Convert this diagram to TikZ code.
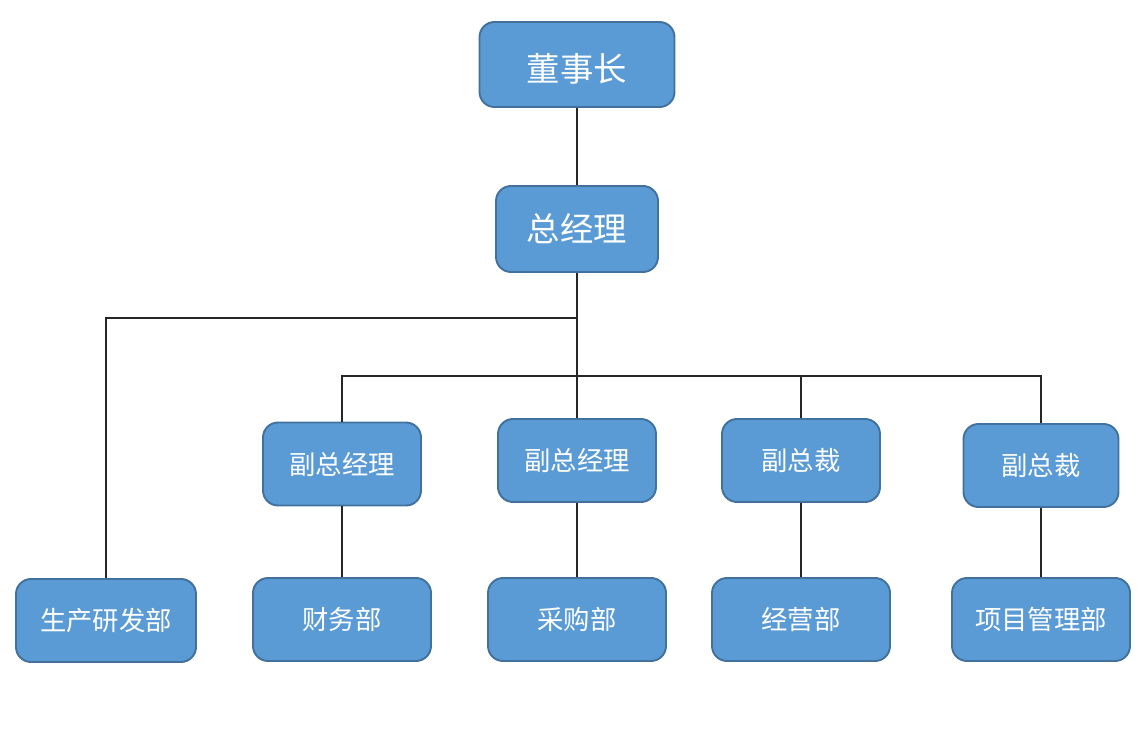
\documentclass[tikz,border=0pt]{standalone}
\usepackage{fontspec}
\newfontfamily\cjk{Noto Sans CJK SC}
\usepackage{tikz}
\usetikzlibrary{positioning}
\definecolor{boxfill}{HTML}{5B9BD5}
\definecolor{boxline}{HTML}{41719C}

\begin{document}
\begin{tikzpicture}[x=0.02cm, y=-0.02cm,
    unit/.style={draw=boxline, line width=1.1pt, fill=boxfill, rounded corners=0.3cm,
        text=white, font=\cjk\fontsize{15pt}{18pt}\selectfont,
        minimum width=3.16cm, minimum height=1.66cm, inner sep=0pt},
    dept/.style={unit, minimum width=3.56cm},
    head/.style={unit, font=\cjk\fontsize{19pt}{23pt}\selectfont},
    link/.style={draw=black!85, line width=0.75pt}]
        \useasboundingbox (0,0) rectangle (1147,748);

        % top level
        \node[head, minimum width=3.9cm, minimum height=1.7cm, text depth=0pt] (ceo) at (577,64.5) {\raisebox{-0.1cm}{董事长}};
        \node[head, minimum width=3.24cm, minimum height=1.72cm] (gm) at (577,229) {总经理};

        % vice presidents
        \node[unit] (vpa) at (342,464) {副总经理};
        \node[unit] (vpb) at (577,460.5) {副总经理};
        \node[unit] (vpc) at (801,460.5) {副总裁};
        \node[unit, minimum width=3.1cm] (vpd) at (1041,465.5) {副总裁};

        % departments
        \node[dept, minimum width=3.6cm] (rd) at (106,620.5) {生产研发部};
        \node[dept] (fin) at (342,619.5) {财务部};
        \node[dept] (pur) at (577,619.5) {采购部};
        \node[dept] (ops) at (801,619.5) {经营部};
        \node[dept] (pm) at (1041,619.5) {项目管理部};

        % branch points
        \coordinate (splitA) at (577,318);
        \coordinate (splitB) at (577,376);

        % connectors
        \draw[link] (ceo) -- (gm);
        \draw[link] (gm.south) -- (gm.south |- vpb.north);
        \draw[link] (rd.north) |- (splitA);
        \draw[link] (vpa.north) |- (splitB) -| (vpd.north);
        \draw[link] (vpc.north) -- (vpc.north |- splitB);
        \foreach \up/\down in {vpa/fin, vpb/pur, vpc/ops, vpd/pm} {
            \draw[link] (\up) -- (\down);
        }
    \end{tikzpicture}
\end{document}
